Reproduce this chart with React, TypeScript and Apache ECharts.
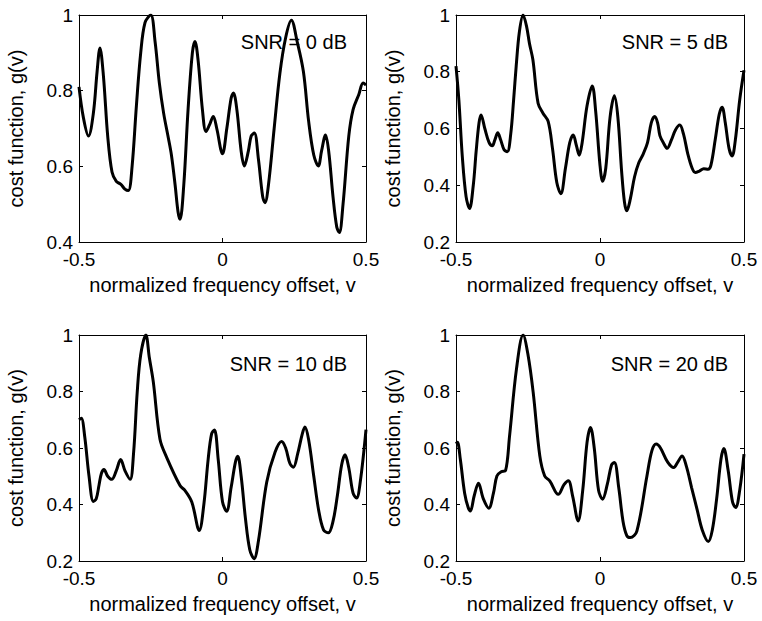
import React, { useEffect, useRef } from "react";
import * as echarts from "echarts";

// ---- data ----
const xTicks = [-0.5, 0, 0.5];
const snrLabels = ["SNR = 0 dB", "SNR = 5 dB", "SNR = 10 dB", "SNR = 20 dB"];
const yMins = [0.4, 0.2, 0.2, 0.2];

const snr0V = [-0.5, -0.485, -0.467, -0.45, -0.437, -0.427, -0.415, -0.4, -0.385, -0.37, -0.355, -0.34, -0.328, -0.315, -0.3, -0.285, -0.27, -0.25, -0.235, -0.22, -0.205, -0.19, -0.178, -0.165, -0.155, -0.148, -0.135, -0.12, -0.105, -0.096, -0.085, -0.07, -0.0575, -0.045, -0.032, -0.02, 0.0, 0.015, 0.03, 0.038, 0.05, 0.065, 0.076, 0.09, 0.1, 0.111, 0.125, 0.14, 0.148, 0.16, 0.18, 0.2, 0.22, 0.24, 0.26, 0.282, 0.3, 0.318, 0.334, 0.345, 0.359, 0.37, 0.385, 0.398, 0.407, 0.42, 0.44, 0.455, 0.475, 0.49, 0.5];
const snr0G = [0.81, 0.73, 0.68, 0.74, 0.85, 0.913, 0.84, 0.68, 0.585, 0.56, 0.553, 0.54, 0.536, 0.6, 0.76, 0.9, 0.98, 1.0, 0.93, 0.82, 0.74, 0.68, 0.63, 0.55, 0.48, 0.46, 0.55, 0.75, 0.9, 0.93, 0.88, 0.75, 0.692, 0.71, 0.732, 0.7, 0.633, 0.7, 0.78, 0.794, 0.75, 0.64, 0.601, 0.64, 0.68, 0.688, 0.62, 0.52, 0.504, 0.55, 0.7, 0.846, 0.94, 0.986, 0.93, 0.85, 0.72, 0.63, 0.601, 0.64, 0.683, 0.64, 0.52, 0.44, 0.425, 0.5, 0.68, 0.75, 0.79, 0.82, 0.815];

const snr5V = [-0.5, -0.49, -0.478, -0.465, -0.453, -0.44, -0.43, -0.42, -0.413, -0.4, -0.385, -0.374, -0.365, -0.355, -0.345, -0.333, -0.322, -0.31, -0.3, -0.291, -0.28, -0.267, -0.255, -0.245, -0.233, -0.215, -0.198, -0.18, -0.165, -0.15, -0.136, -0.12, -0.105, -0.093, -0.082, -0.072, -0.062, -0.045, -0.027, -0.015, 0.0, 0.009, 0.02, 0.035, 0.05, 0.062, 0.075, 0.085, 0.093, 0.105, 0.12, 0.135, 0.15, 0.165, 0.178, 0.19, 0.2, 0.208, 0.22, 0.233, 0.248, 0.262, 0.277, 0.29, 0.305, 0.32, 0.331, 0.345, 0.36, 0.375, 0.385, 0.4, 0.414, 0.424, 0.435, 0.448, 0.459, 0.47, 0.485, 0.5];
const snr5G = [0.82, 0.7, 0.5, 0.36, 0.318, 0.4, 0.52, 0.62, 0.648, 0.6, 0.55, 0.539, 0.56, 0.585, 0.56, 0.525, 0.518, 0.58, 0.7, 0.82, 0.94, 1.0, 0.96, 0.9, 0.842, 0.689, 0.654, 0.625, 0.53, 0.41, 0.37, 0.46, 0.55, 0.577, 0.54, 0.506, 0.55, 0.68, 0.75, 0.66, 0.47, 0.414, 0.46, 0.64, 0.715, 0.64, 0.45, 0.34, 0.31, 0.35, 0.43, 0.48, 0.51, 0.55, 0.62, 0.642, 0.62, 0.575, 0.55, 0.53, 0.56, 0.595, 0.612, 0.58, 0.51, 0.46, 0.445, 0.45, 0.458, 0.456, 0.47, 0.56, 0.65, 0.675, 0.62, 0.53, 0.503, 0.56, 0.7, 0.805];

const snr10V = [-0.5, -0.492, -0.48, -0.465, -0.45, -0.44, -0.43, -0.422, -0.413, -0.4, -0.386, -0.37, -0.355, -0.34, -0.322, -0.31, -0.297, -0.285, -0.267, -0.255, -0.241, -0.218, -0.195, -0.148, -0.131, -0.107, -0.081, -0.065, -0.05, -0.038, -0.028, -0.015, 0.0, 0.0145, 0.03, 0.045, 0.053, 0.065, 0.08, 0.095, 0.11, 0.125, 0.154, 0.183, 0.206, 0.22, 0.235, 0.247, 0.262, 0.278, 0.287, 0.3, 0.318, 0.335, 0.352, 0.369, 0.385, 0.4, 0.415, 0.427, 0.44, 0.455, 0.467, 0.48, 0.5];
const snr10G = [0.7, 0.705, 0.64, 0.5, 0.411, 0.42, 0.47, 0.51, 0.524, 0.5, 0.489, 0.52, 0.559, 0.52, 0.489, 0.58, 0.8, 0.93, 1.0, 0.92, 0.833, 0.632, 0.568, 0.467, 0.45, 0.409, 0.308, 0.4, 0.56, 0.65, 0.664, 0.56, 0.41, 0.376, 0.46, 0.55, 0.571, 0.5, 0.35, 0.24, 0.208, 0.27, 0.479, 0.585, 0.623, 0.6, 0.545, 0.532, 0.58, 0.65, 0.674, 0.63, 0.5, 0.38, 0.31, 0.3, 0.34, 0.43, 0.54, 0.576, 0.53, 0.44, 0.423, 0.48, 0.665];

const snr20V = [-0.5, -0.495, -0.485, -0.47, -0.458, -0.45, -0.437, -0.422, -0.405, -0.386, -0.37, -0.358, -0.343, -0.328, -0.314, -0.29, -0.267, -0.25, -0.232, -0.209, -0.192, -0.174, -0.145, -0.125, -0.11, -0.095, -0.076, -0.06, -0.045, -0.033, -0.02, -0.005, 0.009, 0.025, 0.04, 0.05, 0.065, 0.08, 0.093, 0.105, 0.128, 0.163, 0.18, 0.195, 0.21, 0.235, 0.256, 0.27, 0.285, 0.3, 0.318, 0.337, 0.355, 0.376, 0.39, 0.405, 0.42, 0.43, 0.445, 0.46, 0.471, 0.485, 0.5];
const snr20G = [0.615, 0.62, 0.56, 0.44, 0.39, 0.377, 0.43, 0.475, 0.42, 0.387, 0.44, 0.501, 0.516, 0.52, 0.643, 0.88, 1.0, 0.93, 0.797, 0.572, 0.501, 0.483, 0.436, 0.47, 0.484, 0.43, 0.342, 0.45, 0.62, 0.673, 0.6, 0.45, 0.419, 0.47, 0.54, 0.549, 0.46, 0.34, 0.29, 0.283, 0.306, 0.501, 0.59, 0.614, 0.6, 0.55, 0.531, 0.55, 0.572, 0.535, 0.46, 0.383, 0.31, 0.269, 0.31, 0.42, 0.56, 0.598, 0.52, 0.41, 0.389, 0.45, 0.578];

const curves = [
  [snr0V, snr0G],
  [snr5V, snr5G],
  [snr10V, snr10G],
  [snr20V, snr20G],
];

// ---- layout ----
const FONT = "'Liberation Sans', Arial, Helvetica, sans-serif";
const grids = [
  { left: 79, top: 15, width: 287, height: 227 },
  { left: 456, top: 15, width: 288, height: 227 },
  { left: 79, top: 335, width: 287, height: 226 },
  { left: 456, top: 335, width: 288, height: 226 },
];
const snrPos = [
  { x: 347, y: 42 },
  { x: 728, y: 42 },
  { x: 347, y: 364 },
  { x: 728, y: 364 },
];

export default function App() {
  const ref = useRef<HTMLDivElement>(null);
  useEffect(() => {
    if (!ref.current) return;
    const chart = echarts.init(ref.current, undefined, { renderer: "svg" });
    const axisLine = { show: true, onZero: false, lineStyle: { color: "#000", width: 1 } };
    const tick = { show: true, inside: true, length: 4, lineStyle: { color: "#000", width: 1 } };
    const xAxes: any[] = [];
    const yAxes: any[] = [];
    grids.forEach((_, i) => {
      xAxes.push({
        type: "value", gridIndex: i, min: xTicks[0], max: xTicks[xTicks.length - 1], interval: 0.5,
        position: "bottom",
        axisLine, axisTick: tick, splitLine: { show: false },
        axisLabel: { color: "#000", fontSize: 19, fontFamily: FONT, margin: 8 },
        name: "normalized frequency offset, v", nameLocation: "middle", nameGap: 33,
        nameTextStyle: { color: "#000", fontSize: 20, fontFamily: FONT },
      });
      yAxes.push({
        type: "value", gridIndex: i, min: yMins[i], max: 1, interval: 0.2,
        position: "left",
        axisLine, axisTick: tick, splitLine: { show: false },
        axisLabel: { color: "#000", fontSize: 19, fontFamily: FONT, margin: 6 },
        name: "cost function, g(v)", nameLocation: "middle", nameGap: 53,
        nameTextStyle: { color: "#000", fontSize: 20, fontFamily: FONT },
      });
    });
    grids.forEach((_, i) => {
      xAxes.push({
        type: "value", gridIndex: i, min: xTicks[0], max: xTicks[xTicks.length - 1], interval: 0.5,
        position: "top", axisLine, axisTick: tick, splitLine: { show: false }, axisLabel: { show: false },
      });
      yAxes.push({
        type: "value", gridIndex: i, min: yMins[i], max: 1, interval: 0.2,
        position: "right", axisLine, axisTick: tick, splitLine: { show: false }, axisLabel: { show: false },
      });
    });
    const series = curves.map(([vs, gs], i) => ({
      type: "line",
      xAxisIndex: i,
      yAxisIndex: i,
      data: vs.map((v, k) => [v, gs[k]]),
      showSymbol: false,
      smooth: 0.35,
      clip: true,
      lineStyle: { color: "#000", width: 3 },
    }));
    const graphic = snrLabels.map((t, i) => ({
      type: "text",
      x: snrPos[i].x,
      y: snrPos[i].y,
      z: 100,
      style: {
        text: t, fill: "#000", fontSize: 20, fontFamily: FONT,
        align: "right", verticalAlign: "middle",
      },
    }));
    chart.setOption({
      animation: false,
      backgroundColor: "#fff",
      grid: grids.map((g) => ({ ...g, containLabel: false })),
      xAxis: xAxes,
      yAxis: yAxes,
      series,
      graphic,
    });
    return () => chart.dispose();
  }, []);
  return (
    <div
      ref={ref}
      style={{ position: "fixed", left: 0, top: 0, width: 762, height: 621, background: "#fff" }}
    />
  );
}
